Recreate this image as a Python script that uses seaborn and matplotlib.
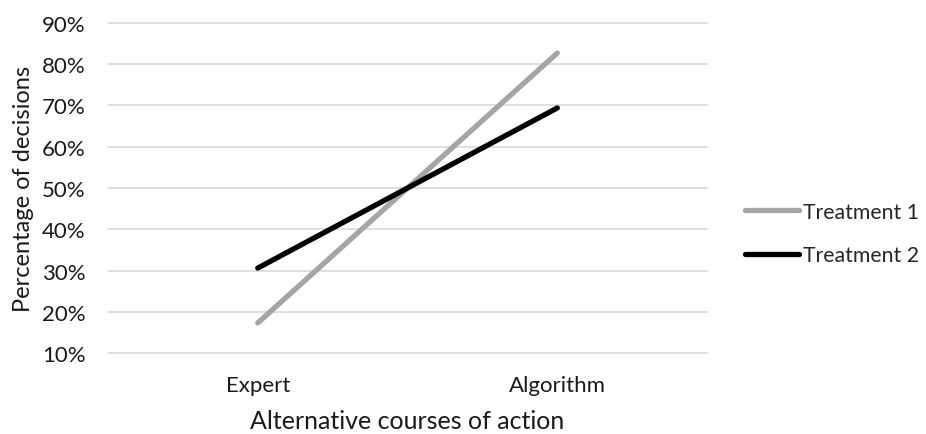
import pandas as pd
import seaborn as sns
import matplotlib.pyplot as plt
from matplotlib.ticker import PercentFormatter

options = ['Expert', 'Algorithm']
treatment_1 = [17.3, 82.7]
treatment_2 = [30.6, 69.4]
y_ticks = [10, 20, 30, 40, 50, 60, 70, 80, 90]

data = pd.DataFrame({
    'option': options * 2,
    'pct': treatment_1 + treatment_2,
    'group': ['Treatment 1'] * 2 + ['Treatment 2'] * 2,
})
data['pos'] = data['option'].map({o: i for i, o in enumerate(options)})

sns.set_style('white')
plt.rcParams['font.family'] = ['Lato', 'DejaVu Sans']

fig = plt.figure(figsize=(9.26, 4.35), dpi=100)
ax = fig.add_axes([0.1166, 0.186, 0.647, 0.759])

# horizontal gridlines (drawn unclipped so the 10% line shows at the edge)
for t in y_ticks:
    ax.axhline(t, color='#d9d9d9', linewidth=1.2, clip_on=False, zorder=0)

sns.lineplot(data=data, x='pos', y='pct', hue='group',
             palette={'Treatment 1': '#a5a5a5', 'Treatment 2': '#000000'},
             linewidth=3.8, solid_capstyle='round', ax=ax, legend=True)

ax.set_xlim(-0.5, 1.5)
ax.set_ylim(10, 90)
ax.set_xticks(range(len(options)))
ax.set_xticklabels(options)
ax.set_yticks(y_ticks)
ax.yaxis.set_major_formatter(PercentFormatter(decimals=0))
ax.tick_params(axis='both', length=0, labelsize=16, colors='#1a1a1a')
ax.tick_params(axis='y', pad=16)
ax.tick_params(axis='x', pad=16)
for s in ax.spines.values():
    s.set_visible(False)

ax.set_xlabel('Alternative courses of action', fontsize=18, color='#1a1a1a', labelpad=10)
ax.set_ylabel('Percentage of decisions', fontsize=17, color='#1a1a1a', labelpad=6)

leg = ax.legend(loc='center left', bbox_to_anchor=(1.063, 0.362), frameon=False,
                fontsize=15.3, handlelength=2.55, handletextpad=0.2, labelspacing=1.12,
                borderpad=0, borderaxespad=0)
for line in leg.get_lines():
    line.set_linewidth(3.8)
    line.set_solid_capstyle('round')

fig.savefig('out.png', dpi=100)
